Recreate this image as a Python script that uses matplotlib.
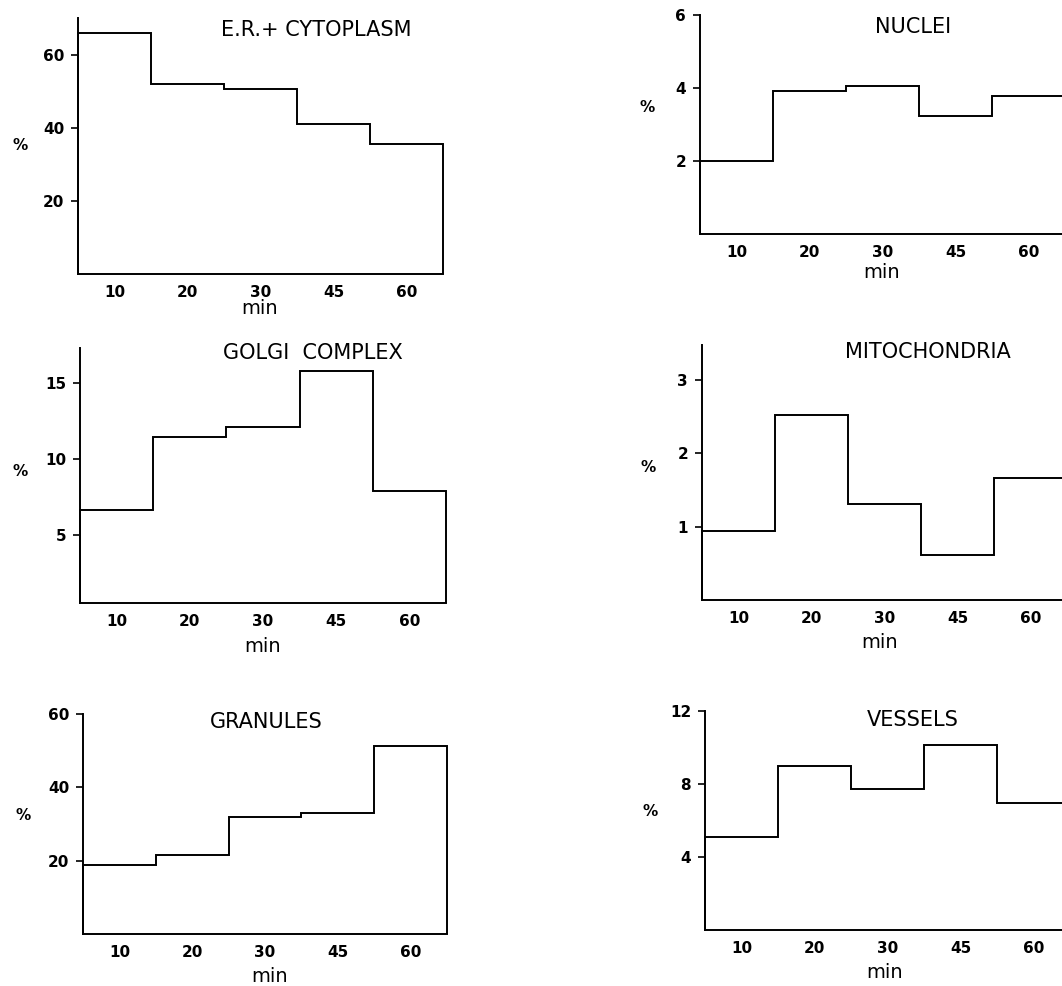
import numpy as np
import matplotlib
matplotlib.use('Agg')
import matplotlib.pyplot as plt

W, H = 1062, 986

min_labels = ['10', '20', '30', '45', '60']

titles = ['E.R.+ CYTOPLASM', 'NUCLEI', 'GOLGI  COMPLEX', 'MITOCHONDRIA', 'GRANULES', 'VESSELS']

er_cytoplasm = [66.0, 52.0, 50.7, 41.0, 35.5]
nuclei = [2.0, 3.93, 4.06, 3.22, 3.78]
golgi = [6.6, 11.45, 12.1, 15.8, 7.9]
mitochondria = [0.945, 2.53, 1.31, 0.61, 1.66]
granules = [18.8, 21.6, 31.8, 33.0, 51.4]
vessels = [5.07, 8.96, 7.73, 10.15, 6.94]

yticks = [[20, 40, 60], [2, 4, 6], [5, 10, 15], [1, 2, 3], [20, 40, 60], [4, 8, 12]]
ylims = [(0, 70), (0, 6), (0.5, 17.3), (0, 3.48), (0, 60), (0, 12)]

series = [er_cytoplasm, nuclei, golgi, mitochondria, granules, vessels]

# axes boxes in pixels: left, right, top, bottom
boxes = [(78, 443, 18, 274), (700, 1065, 15, 234),
         (80, 446, 348, 603), (702, 1067, 345, 600),
         (83, 447, 714, 934), (705, 1070, 711, 930)]
# title centre, '%' position, 'min' position (pixels)
title_pos = [(316, 30), (913, 27), (313, 353), (928, 352), (266, 722), (913, 720)]
pct_pos = [(20, 146), (647, 107), (20, 472), (648, 468), (23, 815), (650, 812)]
min_pos = [(260, 308), (882, 272), (263, 647), (880, 643), (270, 977), (885, 972)]

fig = plt.figure(figsize=(W / 100, H / 100), dpi=100)

for i in range(6):
  l, r, t, b = boxes[i]
  ax = fig.add_axes([l / W, (H - b) / H, (r - l) / W, (b - t) / H])
  vals = series[i]
  edges = np.arange(len(vals) + 1)
  ax.stairs(vals, edges, baseline=ylims[i][0], color='black', linewidth=1.4, clip_on=False)
  ax.set_xlim(edges[0], edges[-1])
  ax.set_ylim(ylims[i])
  ax.spines['top'].set_visible(False)
  ax.spines['right'].set_visible(False)
  ax.spines['left'].set_linewidth(1.4)
  ax.spines['bottom'].set_linewidth(1.4)
  ax.set_yticks(yticks[i])
  ax.set_yticklabels([str(v) for v in yticks[i]], fontsize=11, fontweight='bold')
  ax.tick_params(axis='y', direction='out', length=5, width=1.2, pad=5)
  ax.set_xticks(edges[:-1] + 0.5)
  ax.set_xticklabels(min_labels, fontsize=11, fontweight='bold')
  ax.tick_params(axis='x', length=0, pad=8)
  ax.patch.set_alpha(0)

  fig.text(title_pos[i][0] / W, 1 - title_pos[i][1] / H, titles[i],
           fontsize=15, ha='center', va='center')
  fig.text(pct_pos[i][0] / W, 1 - pct_pos[i][1] / H, '%',
           fontsize=11, fontweight='bold', ha='center', va='center')
  fig.text(min_pos[i][0] / W, 1 - min_pos[i][1] / H, 'min',
           fontsize=14, ha='center', va='center')

fig.savefig('out.png', dpi=100)
